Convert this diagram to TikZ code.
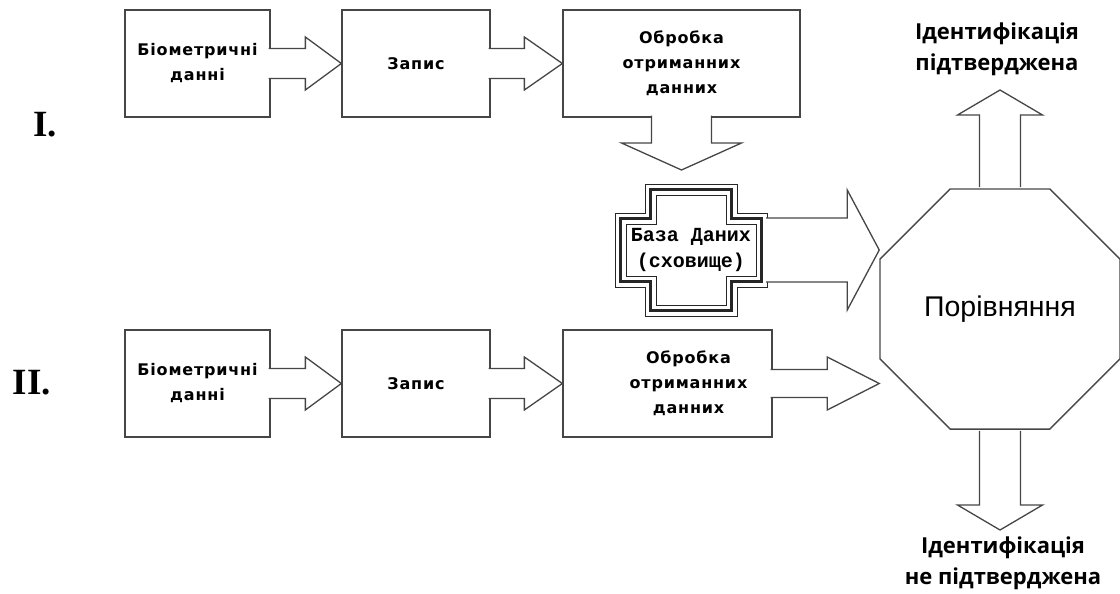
\documentclass[tikz,border=0pt]{standalone}
\usepackage{fontspec}
\setmainfont{Liberation Serif}
\newfontfamily\boxfont{DejaVu Sans}[LetterSpace=5]
\newfontfamily\idfont{Open Sans}
\newfontfamily\cmpfont{Liberation Sans}
\newfontfamily\dbfont{Liberation Mono}
\usetikzlibrary{calc,shapes.geometric}
\definecolor{figline}{RGB}{70,70,70}
\tikzset{
  box/.style  ={draw=figline, line width=1.3pt, fill=white, minimum height=107, inner sep=0pt},
  btxt/.style ={font=\boxfont\bfseries\fontsize{16}{25}\selectfont, align=center, inner sep=0pt},
  blk/.style  ={draw=figline, fill=white, line width=1.3pt, line join=miter},
  itxt/.style ={font=\idfont\bfseries\fontsize{22}{31}\selectfont, align=center, inner sep=0pt},
  dbtxt/.style={font=\dbfont\bfseries\fontsize{20}{26}\selectfont, align=center, inner sep=0pt},
  num/.style  ={font=\bfseries\fontsize{37}{40}\selectfont, inner sep=0pt},
}
% block arrows: from, to, shaft half, head half, head length, overlap
\newcommand{\fatR}[6]{%
  \filldraw[blk] let \p1=(#1), \p2=(#2) in
    (\x1-#6,\y1+#3) -- (\x2-#5,\y1+#3) -- (\x2-#5,\y1+#4) -- (\x2,\y1)
    -- (\x2-#5,\y1-#4) -- (\x2-#5,\y1-#3) -- (\x1-#6,\y1-#3);}
\newcommand{\fatD}[6]{%
  \filldraw[blk] let \p1=(#1), \p2=(#2) in
    (\x1+#3,\y1+#6) -- (\x1+#3,\y2+#5) -- (\x1+#4,\y2+#5) -- (\x1,\y2)
    -- (\x1-#4,\y2+#5) -- (\x1-#3,\y2+#5) -- (\x1-#3,\y1+#6);}
\newcommand{\fatU}[6]{%
  \filldraw[blk] let \p1=(#1), \p2=(#2) in
    (\x1+#3,\y1-#6) -- (\x1+#3,\y2-#5) -- (\x1+#4,\y2-#5) -- (\x1,\y2)
    -- (\x1-#4,\y2-#5) -- (\x1-#3,\y2-#5) -- (\x1-#3,\y1-#6);}

\begin{document}
\begin{tikzpicture}[x=1pt,y=-1pt]
  \useasboundingbox (0,0) rectangle (1120,594);
  % row labels
  \node[num] (r1) at (45,125) {I.};
  \node[num] (r2) at (32,383) {II.};
  % row I
  \node[box, minimum width=145] (bio1) at (197.5,63.5) {};
  \node[btxt] at (bio1) {Біометричні\\данні};
  \node[box, minimum width=148] (rec1) at (416,63.5) {};
  \node[btxt] at (rec1) {Запис};
  \node[box, minimum width=237] (proc1) at (681.5,63.5) {};
  \node[btxt] at (proc1) {Обробка\\отриманних\\данних};
  % row II
  \node[box, minimum width=145] (bio2) at (197.5,383.5) {};
  \node[btxt] at (bio2) {Біометричні\\данні};
  \node[box, minimum width=148] (rec2) at (416,383.5) {};
  \node[btxt] at (rec2) {Запис};
  \node[box, minimum width=209] (proc2) at (667.5,383.5) {};
  \node[btxt] at ([xshift=21]proc2.center) {Обробка\\отриманних\\данних};
  % database
  \node[dbtxt] (db) at (691,250) {База Даних\\(сховище)};
  \begin{scope}[shift={(db.center)}]
    \foreach \d/\w in {0/0.8,5.5/2.2,11/0.8}
      \draw[draw=black!85, line width=\w pt] (-46+\d,-66+\d) -- (46-\d,-66+\d) -- (46-\d,-37+\d)
        -- (76-\d,-37+\d) -- (76-\d,37-\d) -- (46-\d,37-\d) -- (46-\d,66-\d) -- (-46+\d,66-\d)
        -- (-46+\d,37-\d) -- (-76+\d,37-\d) -- (-76+\d,-37+\d) -- (-46+\d,-37+\d) -- cycle;
  \end{scope}
  \coordinate (dbE) at ([xshift=76]db.center);
  \coordinate (dbtip) at (682,170);
  % comparison
  \node[regular polygon, regular polygon sides=8, minimum size=260, draw=figline, line width=1.3pt,
        inner sep=0pt, font=\cmpfont\fontsize{28.5}{30}\selectfont] (cmp) at (1000,309) {Порівняння};
  \node[itxt] (idyes) at (997,49) {Ідентифікація\\підтверджена};
  \node[itxt] (idno) at (1003,563) {Ідентифікація\\не підтверджена};
  \coordinate (yestip) at (1003,90);
  \coordinate (notip) at (1003,530);
  % arrows
  \fatR{bio1.east}{rec1.west}{15}{26.5}{36}{2}
  \fatR{rec1.east}{proc1.west}{15}{26.5}{38}{2}
  \fatR{bio2.east}{rec2.west}{15}{26.5}{36}{2}
  \fatR{rec2.east}{proc2.west}{15}{26.5}{38}{2}
  \fatD{proc1.south}{dbtip}{30}{60}{27}{2}
  \fatR{dbE}{cmp.west}{32}{60}{32}{1}
  \fatR{proc2.east}{cmp.west}{14}{26.5}{52}{2}
  \fatU{cmp.north}{yestip}{20.5}{42.5}{25}{-1}
  \fatD{cmp.south}{notip}{20.5}{42.5}{25}{-1}
\end{tikzpicture}
\end{document}
